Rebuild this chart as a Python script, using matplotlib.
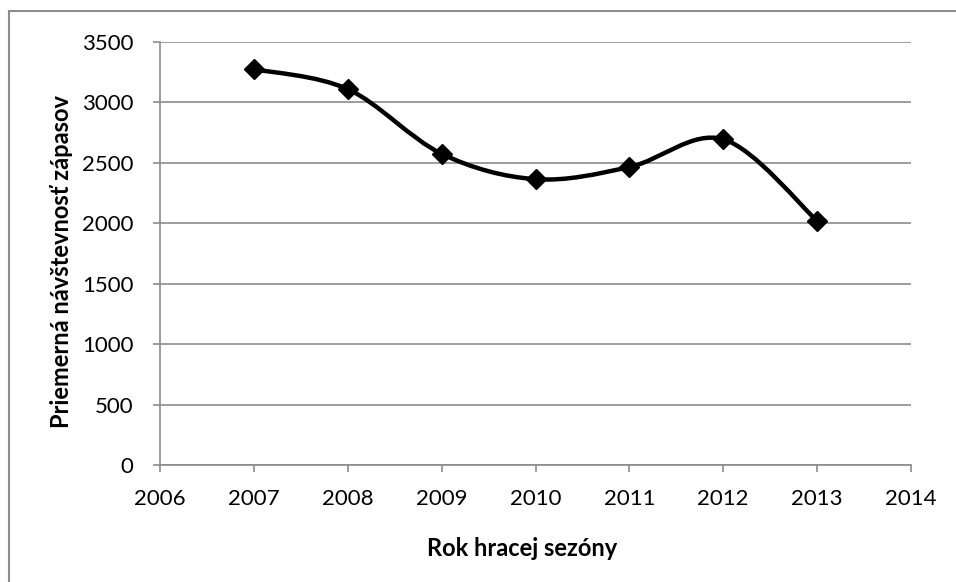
import matplotlib.pyplot as plt
from matplotlib.path import Path
from matplotlib.patches import PathPatch
from matplotlib.lines import Line2D
import numpy as np

# Average match attendance per season
years = [2007, 2008, 2009, 2010, 2011, 2012, 2013]
attendance = [3275, 3110, 2575, 2365, 2465, 2695, 2020]

plt.rcParams['font.family'] = ['Lato', 'DejaVu Sans']

W, H = 956, 582
fig = plt.figure(figsize=(W / 100, H / 100), dpi=100)
ax = fig.add_axes([160 / W, 1 - 465 / H, (911 - 160) / W, (465 - 42) / H])

# outer chart frame (left and top edges are visible)
fig.add_artist(Line2D([9 / W, 9 / W], [0, 1 - 11 / H], color='#8c8c8c', lw=1.5,
                      transform=fig.transFigure))
fig.add_artist(Line2D([9 / W, 1], [1 - 11 / H, 1 - 11 / H], color='#8c8c8c', lw=1.5,
                      transform=fig.transFigure))

# smoothed line (Catmull-Rom style Bezier segments)
pts = np.column_stack([years, attendance]).astype(float)
verts = [tuple(pts[0])]
codes = [Path.MOVETO]
n = len(pts)
for i in range(n - 1):
    p0 = pts[max(i - 1, 0)]
    p1 = pts[i]
    p2 = pts[i + 1]
    p3 = pts[min(i + 2, n - 1)]
    c1 = p1 + (p2 - p0) / 6
    c2 = p2 - (p3 - p1) / 6
    verts += [tuple(c1), tuple(c2), tuple(p2)]
    codes += [Path.CURVE4] * 3
ax.add_patch(PathPatch(Path(verts, codes), facecolor='none', edgecolor='black',
                       lw=3.2, zorder=3))
ax.plot(years, attendance, linestyle='none', marker='D', color='black',
        markersize=10, zorder=4)

ax.set_xlim(2006, 2014)
ax.set_ylim(0, 3500)
ax.set_xticks(range(2006, 2015))
ax.set_yticks(range(0, 3501, 500))
ax.yaxis.grid(True, color='#8c8c8c', lw=1.2)
ax.set_axisbelow(True)

for s in ['top', 'right']:
    ax.spines[s].set_visible(False)
for s in ['left', 'bottom']:
    ax.spines[s].set_color('#8c8c8c')
    ax.spines[s].set_linewidth(1.2)
ax.tick_params(axis='both', colors='#8c8c8c', length=5, width=1.2,
               labelsize=16, labelcolor='black')
ax.tick_params(axis='x', pad=12)
ax.tick_params(axis='y', pad=14)

ax.set_xlabel('Rok hracej sezóny', fontsize=17, fontweight='bold')
ax.set_ylabel('Priemerná návštevnosť zápasov', fontsize=17, fontweight='bold')
ax.xaxis.set_label_coords((522 - 160) / (911 - 160), -(548 - 465) / (465 - 42))
ax.yaxis.set_label_coords(-(160 - 62) / (911 - 160), (465 - 262) / (465 - 42))
ax.xaxis.label.set_va('center')
ax.yaxis.label.set_va('center')

fig.savefig('out.png', dpi=100)
